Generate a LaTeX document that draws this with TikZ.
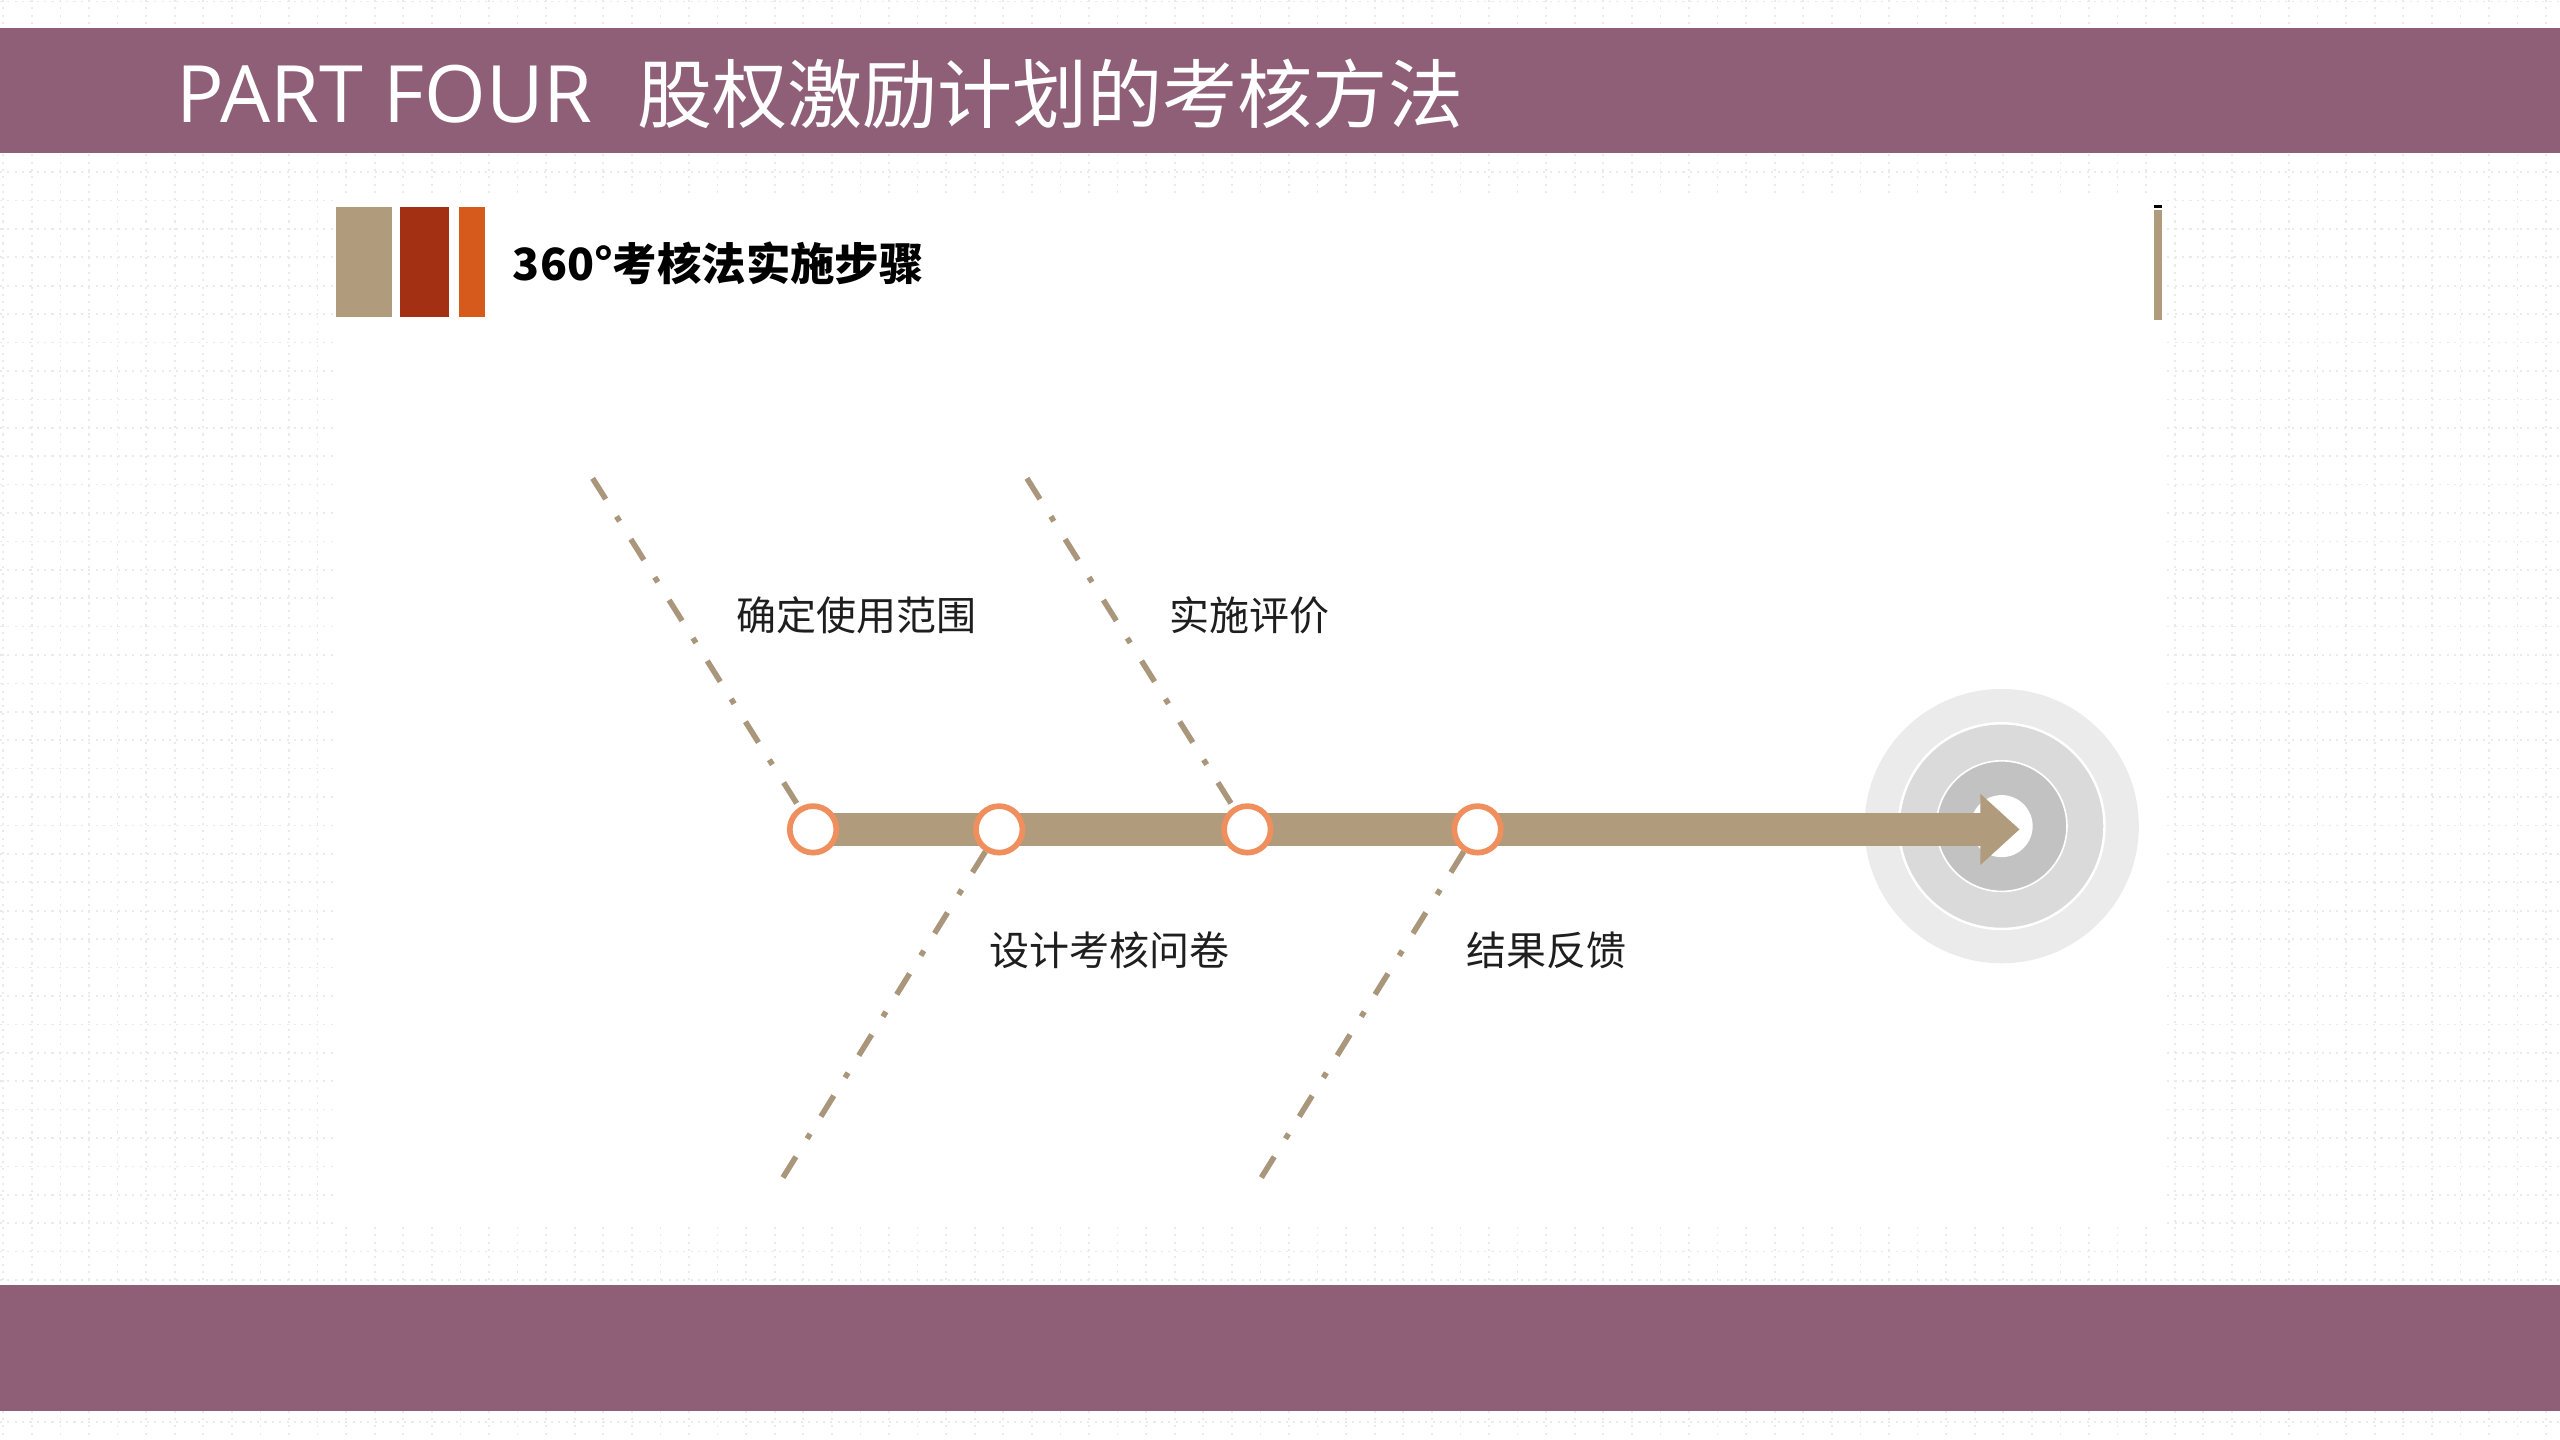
\documentclass[tikz,border=0pt]{standalone}
\usepackage{fontspec}
\setmainfont{Noto Sans CJK SC}
\newfontfamily\latinfont{Open Sans}
\usetikzlibrary{arrows.meta}
\definecolor{band}{RGB}{143,95,120}
\definecolor{tanc}{RGB}{176,155,125}
\definecolor{redc}{RGB}{163,48,19}
\definecolor{orangec}{RGB}{214,90,28}
\definecolor{dotorange}{RGB}{239,143,94}
\definecolor{dashc}{RGB}{170,150,122}
\definecolor{gridc}{RGB}{234,234,234}
\definecolor{txt}{RGB}{30,30,30}
\definecolor{ringA}{RGB}{235,235,235}
\definecolor{ringB}{RGB}{218,218,218}
\definecolor{ringC}{RGB}{194,194,194}
\tikzset{
  gridline/.style={gridc, line width=1pt, dash pattern=on 1.3pt off 3.2pt},
  dotnode/.style={circle, draw=dotorange, fill=white, line width=3.5pt, minimum size=28.5pt, inner sep=0pt},
  dashdotline/.style={dashc, line width=3.4pt, dash pattern=on 15pt off 12.5pt on 3.5pt off 13pt},
  shaft/.style={tanc, line width=20pt, -{Triangle[width=42pt,length=24pt]}},
  lbl/.style={inner sep=0pt, text=txt, font=\fontsize{24.5}{24.5}\selectfont},
}
\begin{document}
\begin{tikzpicture}[x=1pt,y=-1pt]
\useasboundingbox (0,0) rectangle (1568,882);
\fill[white] (0,0) rectangle (1568,882);
% background dotted grid
\foreach \i in {0,...,90} {
  \draw[gridline] ({2+17.5*\i},0) -- ({2+17.5*\i},882);
}
\foreach \j in {0,...,51} {
  \draw[gridline] (0,{1+17.4*\j}) -- (1568,{1+17.4*\j});
}
% content area
\fill[white] (204,119) rectangle (1325,750);
% bands
\fill[band] (0,17) rectangle (1568,94);
\fill[band] (0,787) rectangle (1568,864);
% title
\node[anchor=base west, inner sep=0pt, text=white] (title) at (108,75)
  {{\latinfont\fontsize{48.5}{48.5}\selectfont PART FOUR}\hspace{27pt}{\fontsize{46}{46}\selectfont 股权激励计划的考核方法}};
% header bars
\fill[tanc] (206,127) rectangle (240,194);
\fill[redc] (245,127) rectangle (275,194);
\fill[orangec] (281,127) rectangle (297,194);
\node[anchor=west, inner sep=0pt, text=black] (head) at (314,161)
  {\bfseries\fontsize{27.2}{27.2}\selectfont 360°考核法实施步骤};
% right marker
\fill[tanc] (1319.5,128.5) rectangle (1324.3,196);
\fill[black] (1319.5,125.5) rectangle (1324.3,127.3);
% target
\node[circle, fill=ringA, minimum size=168pt, inner sep=0pt] (tA) at (1226,506) {};
\node[circle, fill=ringB, draw=white, line width=1.5pt, minimum size=126pt, inner sep=0pt] (tB) at (1226,506) {};
\node[circle, fill=ringC, draw=white, line width=1pt, minimum size=80pt, inner sep=0pt] (tC) at (1226,506) {};
\node[circle, fill=white, minimum size=38pt, inner sep=0pt] (tD) at (1226,506) {};
% main shaft
\coordinate (s) at (498,508);
\coordinate (tip) at (1237,508);
\draw[shaft] (s) -- (tip);
% step circles
\node[dotnode] (c1) at (498,508) {};
\node[dotnode] (c2) at (612,508) {};
\node[dotnode] (c3) at (764,508) {};
\node[dotnode] (c4) at (905,508) {};
% dash-dot lines
\coordinate (t1) at (363,293);
\coordinate (t3) at (629,293);
\coordinate (b2) at (476,727);
\coordinate (b4) at (769,727);
\draw[dashdotline] (t1) -- (c1);
\draw[dashdotline] (t3) -- (c3);
\draw[dashdotline] (c2) -- (b2);
\draw[dashdotline] (c4) -- (b4);
% labels
\node[lbl] (l1) at (524.5,377) {确定使用范围};
\node[lbl] (l3) at (765.5,377) {实施评价};
\node[lbl] (l2) at (679.5,582) {设计考核问卷};
\node[lbl] (l4) at (947,582) {结果反馈};
\end{tikzpicture}
\end{document}
